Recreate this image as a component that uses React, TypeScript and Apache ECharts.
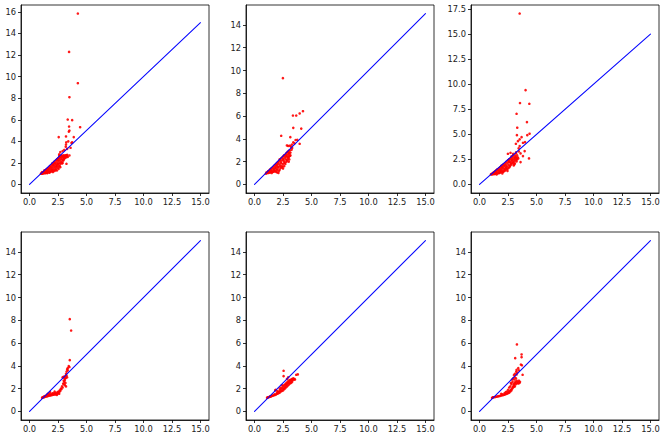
import React, { useEffect, useRef } from "react";
import * as echarts from "echarts";

const lineX = [0, 15];
const lineY = [0, 15];
const xTicks = [0, 2.5, 5, 7.5, 10, 12.5, 15];
const yTicksA = [0, 2, 4, 6, 8, 10, 12, 14, 16];
const yTicksB = [0, 2, 4, 6, 8, 10, 12, 14];
const yTicksC = [0, 2.5, 5, 7.5, 10, 12.5, 15, 17.5];

const panel1: number[][] = [
  [1.0, 1.0], [1.05, 1.02], [1.1, 1.05], [1.12, 1.0], [1.2, 1.1], [1.2, 1.02], [1.25, 1.15], [1.3, 1.05],
  [1.3, 1.2], [1.35, 1.1], [1.4, 1.3], [1.4, 1.05], [1.45, 1.15], [1.5, 1.4], [1.5, 1.1], [1.55, 1.25],
  [1.6, 1.5], [1.6, 1.1], [1.65, 1.3], [1.7, 1.2], [1.7, 1.55], [1.75, 1.4], [1.8, 1.15], [1.8, 1.7],
  [1.85, 1.3], [1.9, 1.5], [1.9, 1.2], [1.95, 1.8], [2.0, 1.4], [2.0, 1.25], [2.0, 1.65], [2.05, 1.9],
  [2.1, 1.3], [2.1, 1.55], [2.15, 1.75], [2.2, 2.0], [2.2, 1.4], [2.25, 1.6], [2.3, 1.85], [2.3, 2.2],
  [2.3, 1.35], [2.35, 1.5], [2.4, 2.05], [2.4, 1.7], [2.45, 2.35], [2.5, 1.9], [2.5, 1.55], [2.5, 2.2],
  [2.55, 1.75], [2.6, 2.45], [2.6, 2.0], [2.65, 1.7], [2.7, 2.3], [2.7, 1.9], [2.75, 2.6], [2.8, 2.1],
  [2.8, 2.5], [2.85, 1.95], [2.9, 2.3], [2.9, 2.65], [2.95, 2.2], [3.0, 2.5], [3.0, 2.7], [3.05, 2.4],
  [3.1, 2.6], [3.15, 2.7], [3.2, 2.5], [3.25, 2.7], [3.3, 2.6], [2.6, 2.65], [2.8, 2.7], [2.7, 3.0],
  [2.9, 3.1], [2.6, 2.8], [1.1, 1.15], [1.3, 1.3], [1.45, 1.35], [1.55, 1.05], [1.65, 1.45], [1.75, 1.1],
  [1.85, 1.6], [1.95, 1.35], [2.05, 1.15], [2.1, 1.8], [2.2, 1.25], [2.25, 1.95], [2.35, 1.7], [2.4, 1.3],
  [2.45, 1.9], [2.5, 2.4], [2.55, 1.45], [2.6, 2.2], [2.65, 2.5], [2.7, 1.6], [2.75, 2.05], [2.8, 2.35],
  [2.85, 2.6], [2.9, 2.0], [2.95, 2.5], [3.0, 2.3], [3.05, 2.65], [3.1, 2.45], [3.2, 2.65], [3.3, 2.75],
  [3.35, 2.55], [2.4, 2.3], [2.0, 1.95], [2.15, 2.1],
  [3.24, 1.92], [3.5, 2.69], [2.56, 4.39], [3.18, 3.5], [3.2, 3.7], [3.22, 3.9],
  [3.68, 3.86], [3.75, 3.9], [3.2, 4.45], [3.88, 4.39], [3.45, 4.9], [3.5, 5.0], [3.47, 5.37], [4.44, 5.31],
  [3.35, 6.02], [3.74, 5.96], [3.5, 8.09], [4.24, 9.39], [3.47, 12.29], [4.24, 15.85], [3.3, 3.3],
  [3.05, 3.2], [3.4, 4.0], [3.6, 3.4],
];

const panel2: number[][] = [
  [1.0, 0.95], [1.05, 1.05], [1.1, 1.0], [1.15, 1.1], [1.2, 1.0], [1.25, 1.2], [1.3, 1.05], [1.35, 1.3],
  [1.4, 1.1], [1.45, 1.4], [1.5, 1.0], [1.5, 1.2], [1.55, 1.45], [1.6, 1.1], [1.67, 1.14], [1.65, 1.55],
  [1.7, 1.3], [1.75, 1.65], [1.8, 1.2], [1.8, 1.45], [1.85, 1.75], [1.9, 1.1], [1.9, 1.55], [1.95, 1.85],
  [2.0, 1.05], [2.0, 1.35], [2.0, 1.7], [2.05, 1.95], [2.1, 1.02], [2.1, 1.5], [2.15, 2.05], [2.2, 1.3],
  [2.2, 1.75], [2.25, 2.15], [2.3, 1.45], [2.3, 1.95], [2.35, 2.3], [2.4, 1.6], [2.4, 2.1], [2.45, 2.4],
  [2.5, 1.4], [2.5, 1.8], [2.5, 2.25], [2.55, 2.5], [2.6, 1.6], [2.6, 2.0], [2.65, 2.35], [2.7, 2.6],
  [2.7, 1.8], [2.75, 2.2], [2.8, 2.75], [2.8, 2.0], [2.85, 2.45], [2.9, 2.85], [2.9, 2.2], [2.95, 2.6],
  [3.0, 2.0], [3.0, 2.4], [3.0, 2.95], [3.05, 2.7], [3.1, 2.5], [3.1, 3.0], [3.15, 2.8], [2.2, 2.2],
  [1.2, 1.15], [1.35, 1.05], [1.45, 1.25], [1.55, 1.1], [1.65, 1.35], [1.75, 1.15], [1.85, 1.4],
  [1.95, 1.25], [2.05, 1.55], [2.15, 1.2], [2.25, 1.6], [2.35, 1.85], [2.45, 1.5], [2.55, 2.15],
  [2.65, 1.9], [2.75, 2.45], [2.85, 2.1], [2.95, 2.35], [3.05, 2.2], [3.15, 2.55], [2.6, 2.55],
  [2.8, 2.6], [2.95, 2.8], [1.9, 1.7], [2.1, 1.85],
  [2.49, 9.33], [3.37, 6.05], [3.66, 6.05], [3.96, 6.23], [4.25, 6.43], [3.4, 4.97], [4.1, 4.9],
  [2.34, 4.27], [3.14, 4.15], [3.6, 3.9], [3.75, 3.92], [3.96, 3.57], [2.84, 3.42], [2.95, 3.38],
  [3.28, 3.5], [3.05, 2.78], [3.4, 3.7], [3.5, 3.6], [3.3, 3.2], [3.2, 3.3], [3.1, 3.4], [3.25, 3.05],
];

const panel3: number[][] = [
  [1.0, 1.0], [1.05, 1.05], [1.1, 1.0], [1.15, 1.1], [1.2, 1.02], [1.25, 1.2], [1.3, 1.05], [1.35, 1.3],
  [1.4, 1.1], [1.45, 1.4], [1.5, 1.0], [1.5, 1.2], [1.55, 1.5], [1.6, 1.1], [1.65, 1.3], [1.7, 1.6],
  [1.7, 1.15], [1.75, 1.4], [1.8, 1.7], [1.8, 1.2], [1.85, 1.5], [1.9, 1.85], [1.9, 1.25], [1.95, 1.6],
  [2.0, 1.1], [2.0, 1.4], [2.0, 1.9], [2.05, 1.7], [2.1, 1.3], [2.1, 2.0], [2.15, 1.55], [2.2, 1.8],
  [2.2, 1.35], [2.25, 2.1], [2.3, 1.6], [2.3, 1.95], [2.35, 2.25], [2.4, 1.5], [2.4, 1.8], [2.45, 2.1],
  [2.5, 2.4], [2.5, 1.6], [2.55, 1.95], [2.6, 2.25], [2.6, 1.7], [2.65, 2.5], [2.7, 1.9], [2.7, 2.2],
  [2.75, 2.6], [2.8, 2.0], [2.8, 2.35], [2.85, 2.7], [2.9, 2.15], [2.9, 2.5], [2.95, 2.9], [3.0, 1.9],
  [3.0, 2.3], [3.0, 2.7], [3.05, 2.5], [3.1, 2.1], [3.1, 2.9], [3.15, 2.4], [3.2, 2.7], [3.2, 3.1],
  [3.25, 2.3], [3.3, 2.5], [3.3, 2.9], [3.35, 2.7], [1.2, 1.15], [1.35, 1.05], [1.45, 1.25], [1.6, 1.45],
  [1.75, 1.15], [1.85, 1.35], [1.95, 1.75], [2.05, 1.25], [2.15, 1.9], [2.25, 1.45], [2.35, 1.7],
  [2.45, 1.35], [2.55, 2.3], [2.65, 1.8], [2.75, 2.1], [2.85, 2.45], [2.95, 2.2], [3.05, 2.0],
  [3.15, 2.75], [3.25, 2.55], [3.4, 2.6], [3.1, 2.6], [2.6, 2.5], [2.8, 2.8],
  [3.52, 17.05], [4.04, 9.41], [3.55, 8.12],
  [4.37, 8.05], [3.25, 7.05], [4.16, 6.22], [3.31, 5.66], [3.28, 4.92], [4.19, 4.92], [4.39, 5.06],
  [3.69, 4.72], [3.52, 4.5], [3.37, 4.32], [3.81, 4.16], [3.99, 4.22], [3.19, 4.06], [3.52, 3.83],
  [3.43, 3.6], [3.96, 3.33], [2.72, 3.16], [2.49, 3.06], [3.2, 3.2], [3.81, 2.83], [4.34, 2.6],
  [3.6, 2.23], [3.45, 3.3], [3.6, 3.1], [2.95, 3.05],
];

const panel4: number[][] = [
  [1.1, 1.2], [1.15, 1.25], [1.2, 1.22], [1.25, 1.3], [1.3, 1.25], [1.35, 1.35], [1.4, 1.3], [1.45, 1.4],
  [1.5, 1.32], [1.55, 1.45], [1.6, 1.35], [1.65, 1.5], [1.7, 1.38], [1.75, 1.55], [1.8, 1.4], [1.85, 1.48],
  [1.9, 1.42], [1.95, 1.55], [2.0, 1.45], [2.05, 1.6], [2.1, 1.47], [2.15, 1.55], [2.2, 1.5], [2.25, 1.62],
  [2.3, 1.5], [2.35, 1.58], [2.4, 1.55], [2.45, 1.7], [2.5, 1.6], [2.55, 1.75], [2.6, 1.68], [2.65, 1.85],
  [2.7, 1.8], [2.75, 2.0], [2.8, 1.95], [2.85, 2.2], [2.9, 2.1], [2.95, 2.45], [3.0, 2.4], [3.0, 2.7],
  [3.05, 2.6], [3.1, 2.9], [3.1, 2.75], [3.15, 3.1], [3.2, 2.95], [3.2, 3.3], [3.25, 3.5], [3.25, 3.15],
  [3.3, 3.7], [3.3, 3.0], [3.35, 3.6], [3.15, 2.5], [3.2, 2.2], [2.9, 3.0], [3.0, 3.05], [3.05, 2.95],
  [1.8, 1.7], [1.6, 1.55], [2.2, 1.75], [2.4, 1.45], [2.6, 1.55], [3.1, 2.3], [3.53, 8.1], [3.65, 7.1],
  [3.53, 4.5], [3.44, 3.98], [3.5, 3.9], [3.35, 3.8],
];

const panel5: number[][] = [
  [1.1, 1.2], [1.15, 1.25], [1.2, 1.22], [1.3, 1.28], [1.35, 1.3], [1.4, 1.3], [1.5, 1.35], [1.55, 1.4],
  [1.6, 1.38], [1.7, 1.42], [1.75, 1.5], [1.8, 1.45], [1.82, 1.84], [1.9, 1.5], [1.95, 1.6], [2.0, 1.55],
  [2.05, 1.7], [2.1, 1.6], [2.15, 1.75], [2.2, 1.65], [2.25, 1.85], [2.3, 1.75], [2.35, 1.95], [2.4, 1.8],
  [2.45, 2.05], [2.5, 1.85], [2.5, 2.2], [2.55, 2.0], [2.6, 2.3], [2.6, 1.95], [2.65, 2.15], [2.7, 2.4],
  [2.7, 2.05], [2.75, 2.3], [2.8, 2.5], [2.8, 2.15], [2.85, 2.4], [2.9, 2.6], [2.9, 2.25], [2.95, 2.5],
  [3.0, 2.7], [3.0, 2.35], [3.05, 2.55], [3.1, 2.75], [3.1, 2.45], [3.15, 2.65], [3.2, 2.8], [3.2, 2.5],
  [3.25, 2.7], [3.3, 2.85], [3.3, 2.6], [3.35, 2.75], [3.4, 2.9], [3.45, 2.8], [3.5, 2.85], [3.55, 2.8],
  [2.3, 2.1], [2.4, 2.3], [2.0, 1.8], [2.2, 2.0], [2.55, 3.57], [2.55, 3.1], [3.66, 3.22], [3.8, 3.25],
  [2.85, 2.85], [2.95, 3.0], [1.85, 1.9],
];

const panel6: number[][] = [
  [1.1, 1.2], [1.15, 1.22], [1.2, 1.25], [1.3, 1.25], [1.4, 1.28], [1.5, 1.3], [1.6, 1.32], [1.7, 1.35],
  [1.8, 1.37], [1.9, 1.4], [2.0, 1.42], [2.1, 1.45], [2.2, 1.48], [2.3, 1.52], [2.4, 1.55], [2.5, 1.6],
  [2.55, 1.7], [2.6, 1.65], [2.65, 1.8], [2.7, 1.75], [2.75, 1.9], [2.8, 1.85], [2.85, 2.0], [2.9, 2.05],
  [2.95, 2.2], [3.0, 2.15], [3.0, 2.4], [3.05, 2.3], [3.1, 2.5], [3.1, 2.2], [3.15, 2.6], [3.2, 2.4],
  [3.25, 2.7], [3.3, 2.5], [3.35, 2.6], [3.4, 2.45], [3.45, 2.7], [3.5, 2.5], [3.55, 2.6], [2.7, 2.2],
  [2.8, 2.4], [2.9, 2.6], [2.75, 2.5], [2.85, 2.8], [2.95, 2.9], [3.05, 2.8], [3.1, 3.0], [3.2, 2.9],
  [2.6, 2.1], [2.5, 1.9], [2.2, 1.6], [1.9, 1.55], [2.0, 1.5], [2.3, 1.7], [2.4, 1.75], [3.28, 5.88],
  [3.13, 4.68], [3.69, 5.0], [3.69, 4.76], [3.63, 4.12], [3.72, 4.05], [3.02, 3.19], [3.25, 3.24],
  [3.78, 3.22], [3.22, 3.5], [3.25, 3.65], [3.3, 3.4], [3.4, 3.8], [3.45, 3.6], [3.1, 3.3],
];

const panels = [panel1, panel2, panel3, panel4, panel5, panel6];
const yTickSets = [yTicksA, yTicksB, yTicksC, yTicksB, yTicksB, yTicksB];
const yDecimals = [0, 0, 1, 0, 0, 0];
const gridPos = [
  { left: 21, top: 5 },
  { left: 246, top: 5 },
  { left: 471, top: 5 },
  { left: 21, top: 232 },
  { left: 246, top: 232 },
  { left: 471, top: 232 },
];

const FONT = "DejaVu Sans";
const BLUE = "rgba(0,0,255,0.98)";

export default function App() {
  const ref = useRef<HTMLDivElement>(null);
  useEffect(() => {
    if (!ref.current) return;
    const chart = echarts.init(ref.current, undefined, { renderer: "svg" });
    const grid: any[] = [];
    const xAxis: any[] = [];
    const yAxis: any[] = [];
    const series: any[] = [];
    panels.forEach((pts, i) => {
      let xmax = Math.max(...lineX), xmin = Math.min(...lineX);
      let ymax = Math.max(...lineY), ymin = Math.min(...lineY);
      pts.forEach(([x, y]) => {
        xmax = Math.max(xmax, x); xmin = Math.min(xmin, x);
        ymax = Math.max(ymax, y); ymin = Math.min(ymin, y);
      });
      const xp = (xmax - xmin) * 0.05;
      const yp = (ymax - ymin) * 0.05;
      grid.push({
        left: gridPos[i].left, top: gridPos[i].top, width: 188, height: 188,
        show: true, borderColor: "#000", borderWidth: 0.8, backgroundColor: "transparent",
        outerBoundsMode: "none",
      });
      const tickStyle = { show: true, length: 3, inside: false, lineStyle: { color: "#000", width: 0.8 } };
      xAxis.push({
        type: "value", gridIndex: i, min: xmin - xp, max: xmax + xp,
        axisLine: { show: true, onZero: false, lineStyle: { color: "#000", width: 0.8 } },
        axisTick: { ...tickStyle, customValues: xTicks },
        splitLine: { show: false },
        axisLabel: {
          customValues: xTicks, fontFamily: FONT, fontSize: 8.3, color: "#222", margin: 5,
          formatter: (v: number) => v.toFixed(1),
        },
      });
      yAxis.push({
        type: "value", gridIndex: i, min: ymin - yp, max: ymax + yp,
        axisLine: { show: true, onZero: false, lineStyle: { color: "#000", width: 0.8 } },
        axisTick: { ...tickStyle, customValues: yTickSets[i] },
        splitLine: { show: false },
        axisLabel: {
          customValues: yTickSets[i], fontFamily: FONT, fontSize: 8.3, color: "#222", margin: 5,
          formatter: (v: number) => v.toFixed(yDecimals[i]),
        },
      });
      series.push({
        name: "pts" + i,
        type: "scatter", xAxisIndex: i, yAxisIndex: i, data: pts, symbol: "circle", symbolSize: 2.6,
        itemStyle: { color: "#ff0000", opacity: 0.9 }, z: 2,
      });
      series.push({
        name: "diag" + i,
        type: "line", xAxisIndex: i, yAxisIndex: i,
        data: lineX.map((x, k) => [x, lineY[k]]),
        symbol: "none",
        lineStyle: { color: BLUE, width: 1.1, type: "solid", cap: "round" }, z: 3,
      });
    });
    chart.setOption({ animation: false, grid, xAxis, yAxis, series });
    return () => chart.dispose();
  }, []);
  return (
    <div
      ref={ref}
      style={{ position: "absolute", left: 0, top: 0, width: 665, height: 438, background: "#fff" }}
    />
  );
}
